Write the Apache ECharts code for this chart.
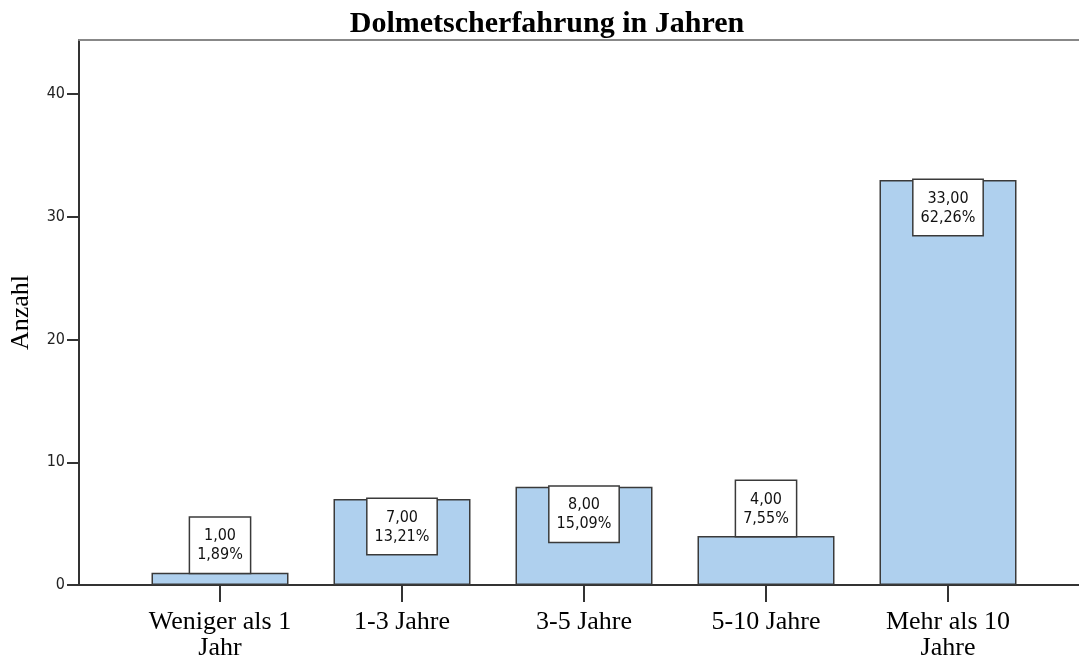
<!DOCTYPE html>
<html>
<head>
<meta charset="utf-8">
<script src="https://cdn.jsdelivr.net/npm/echarts@6/dist/echarts.min.js"></script>
<style>
html,body{margin:0;padding:0;background:#fff;}
#chart{width:1079px;height:661px;}
</style>
</head>
<body>
<div id="chart"></div>
<script>
var titleText = 'Dolmetscherfahrung in Jahren';
var yAxisName = 'Anzahl';
var categories = ['Weniger als 1\nJahr', '1-3 Jahre', '3-5 Jahre', '5-10 Jahre', 'Mehr als 10\nJahre'];
var counts = [1, 7, 8, 4, 33];
var countLabels = ['1,00', '7,00', '8,00', '4,00', '33,00'];
var percentLabels = ['1,89%', '13,21%', '15,09%', '7,55%', '62,26%'];
var yTicks = [0, 10, 20, 30, 40];
var yMin = 0, yMax = 44.4;

var sans = "'DejaVu Sans Condensed', 'DejaVu Sans', sans-serif";
var serif = "'Liberation Serif', 'DejaVu Serif', serif";

var chart = echarts.init(document.getElementById('chart'), null, {renderer: 'canvas'});

var barData = counts.map(function (v, i) {
  return {
    value: v,
    label: {
      position: v < 6 ? 'top' : 'insideTop',
      formatter: countLabels[i] + '\n' + percentLabels[i]
    }
  };
});

chart.setOption({
  animation: false,
  backgroundColor: '#ffffff',
  title: {
    text: titleText,
    left: 542,
    top: 4,
    textAlign: 'center',
    textStyle: {fontFamily: serif, fontWeight: 'bold', fontSize: 30, color: '#000'}
  },
  grid: [
    {left: 79, right: 0, top: 40, bottom: 76},
    {left: 129, right: 40, top: 40, bottom: 76}
  ],
  xAxis: [
    {
      gridIndex: 0, type: 'value', min: 0, max: 1, position: 'bottom',
      axisLine: {show: true, lineStyle: {color: '#333', width: 2}},
      axisTick: {show: false}, axisLabel: {show: false}, splitLine: {show: false}
    },
    {
      gridIndex: 0, type: 'value', min: 0, max: 1, position: 'top',
      axisLine: {show: true, lineStyle: {color: '#888', width: 2}},
      axisTick: {show: false}, axisLabel: {show: false}, splitLine: {show: false}
    },
    {
      gridIndex: 1, type: 'category', data: categories, position: 'bottom',
      axisLine: {show: false},
      axisTick: {show: true, alignWithLabel: true, length: 17, lineStyle: {color: '#333', width: 2}},
      axisLabel: {interval: 0, margin: 24, fontFamily: serif, fontSize: 26, lineHeight: 26, color: '#000'},
      splitLine: {show: false}
    }
  ],
  yAxis: [
    {
      gridIndex: 0, type: 'value', min: yMin, max: yMax, interval: 10,
      name: yAxisName, nameLocation: 'middle', nameRotate: 90, nameGap: 45,
      nameTextStyle: {fontFamily: serif, fontSize: 26, color: '#000'},
      axisLine: {show: true, lineStyle: {color: '#333', width: 2}},
      axisTick: {show: true, length: 12, customValues: yTicks, lineStyle: {color: '#333', width: 2}},
      axisLabel: {customValues: yTicks, margin: 14, fontFamily: sans, fontSize: 16, color: '#222'},
      splitLine: {show: false}
    },
    {
      gridIndex: 1, type: 'value', min: yMin, max: yMax, interval: 10, show: false,
      splitLine: {show: false}
    }
  ],
  series: [{
    type: 'bar',
    xAxisIndex: 2,
    yAxisIndex: 1,
    data: barData,
    barWidth: 137,
    itemStyle: {color: '#afd0ee', borderColor: '#3a3a3a', borderWidth: 1.5},
    label: {
      show: true,
      distance: 0,
      fontFamily: sans,
      fontSize: 16,
      lineHeight: 19,
      color: '#111',
      align: 'center',
      backgroundColor: '#ffffff',
      borderColor: '#3a3a3a',
      borderWidth: 1.5,
      padding: [9, 7, 8, 7]
    }
  }]
});
</script>
</body>
</html>
